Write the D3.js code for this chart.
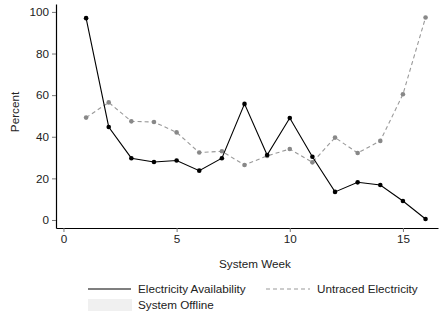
<!DOCTYPE html>
<html>
<head>
<meta charset="utf-8">
<script src="https://cdn.jsdelivr.net/npm/d3@7"></script>
<style>
  body { margin: 0; background: #fff; }
  text { font-family: "Liberation Sans", Arial, sans-serif; }
</style>
</head>
<body>
<div id="chart"></div>
<script>
var weeks = [1, 2, 3, 4, 5, 6, 7, 8, 9, 10, 11, 12, 13, 14, 15, 16];
var electricity = [97, 44.7, 29.7, 27.9, 28.6, 23.7, 29.7, 55.8, 31.2, 49, 30.4, 13.5, 18.1, 16.8, 9.1, 0.5];
var untraced = [49.2, 56.5, 47.4, 47.1, 42.1, 32.4, 33, 26.4, 30.8, 34.1, 27.7, 39.6, 32.2, 38, 60.4, 97.3];
var xTicks = [0, 5, 10, 15];
var yTicks = [0, 20, 40, 60, 80, 100];

var width = 448, height = 316;
var plotLeft = 56, plotRight = 438, plotTop = 4, plotBottom = 228;
var fs = "11.7px";

var svg = d3.select("#chart")
    .append("svg")
    .attr("width", width)
    .attr("height", height);

var x = d3.scaleLinear()
    .domain([-0.33, 16.55])
    .range([plotLeft, plotRight]);

var y = d3.scaleLinear()
    .domain([-3.85, 103.8])
    .range([plotBottom, plotTop]);

// axes
var xAxis = svg.append("g")
    .attr("transform", "translate(0," + plotBottom + ")")
    .call(d3.axisBottom(x).tickValues(xTicks).tickSize(4).tickSizeOuter(0).tickPadding(3));
var yAxis = svg.append("g")
    .attr("transform", "translate(" + plotLeft + ",0)")
    .call(d3.axisLeft(y).tickValues(yTicks).tickSize(4).tickSizeOuter(0).tickPadding(3));

[xAxis, yAxis].forEach(function (g) {
    g.select(".domain").attr("stroke", "#000").attr("stroke-width", 1.2);
    g.selectAll(".tick line").attr("stroke", "#777");
    g.selectAll(".tick text")
        .attr("fill", "#222")
        .attr("font-size", fs)
        .attr("font-family", "Liberation Sans, Arial, sans-serif");
});

svg.append("text")
    .attr("transform", "translate(19," + 112 + ") rotate(-90)")
    .attr("text-anchor", "middle")
    .attr("font-size", fs)
    .attr("fill", "#222")
    .text("Percent");

svg.append("text")
    .attr("x", 255)
    .attr("y", 268)
    .attr("text-anchor", "middle")
    .attr("font-size", fs)
    .attr("fill", "#222")
    .text("System Week");

// lines
var line = d3.line()
    .x(function (d) { return x(d[0]); })
    .y(function (d) { return y(d[1]); });

var series = [
    {vals: untraced, stroke: "#999", dash: "4,3", dot: "#888"},
    {vals: electricity, stroke: "#000", dash: null, dot: "#000"}
];

series.forEach(function (s) {
    var pts = weeks.map(function (w, i) { return [w, s.vals[i]]; });
    svg.append("path")
        .datum(pts)
        .attr("fill", "none")
        .attr("stroke", s.stroke)
        .attr("stroke-width", 1.1)
        .attr("stroke-dasharray", s.dash)
        .attr("d", line);
    svg.selectAll(null)
        .data(pts)
        .enter()
        .append("circle")
        .attr("cx", function (d) { return x(d[0]); })
        .attr("cy", function (d) { return y(d[1]); })
        .attr("r", 2.3)
        .attr("fill", s.dot);
});

// legend
var leg = svg.append("g");
leg.append("line")
    .attr("x1", 88).attr("x2", 131).attr("y1", 289).attr("y2", 289)
    .attr("stroke", "#000").attr("stroke-width", 1.1);
leg.append("text")
    .attr("x", 138).attr("y", 293)
    .attr("font-size", fs).attr("fill", "#222")
    .text("Electricity Availability");
leg.append("line")
    .attr("x1", 266).attr("x2", 310).attr("y1", 289).attr("y2", 289)
    .attr("stroke", "#999").attr("stroke-width", 1.1)
    .attr("stroke-dasharray", "4,3");
leg.append("text")
    .attr("x", 317).attr("y", 293)
    .attr("font-size", fs).attr("fill", "#222")
    .text("Untraced Electricity");
leg.append("rect")
    .attr("x", 88).attr("y", 299).attr("width", 44).attr("height", 12)
    .attr("fill", "#f0f0f0");
leg.append("text")
    .attr("x", 138).attr("y", 309)
    .attr("font-size", fs).attr("fill", "#222")
    .text("System Offline");
</script>
</body>
</html>
